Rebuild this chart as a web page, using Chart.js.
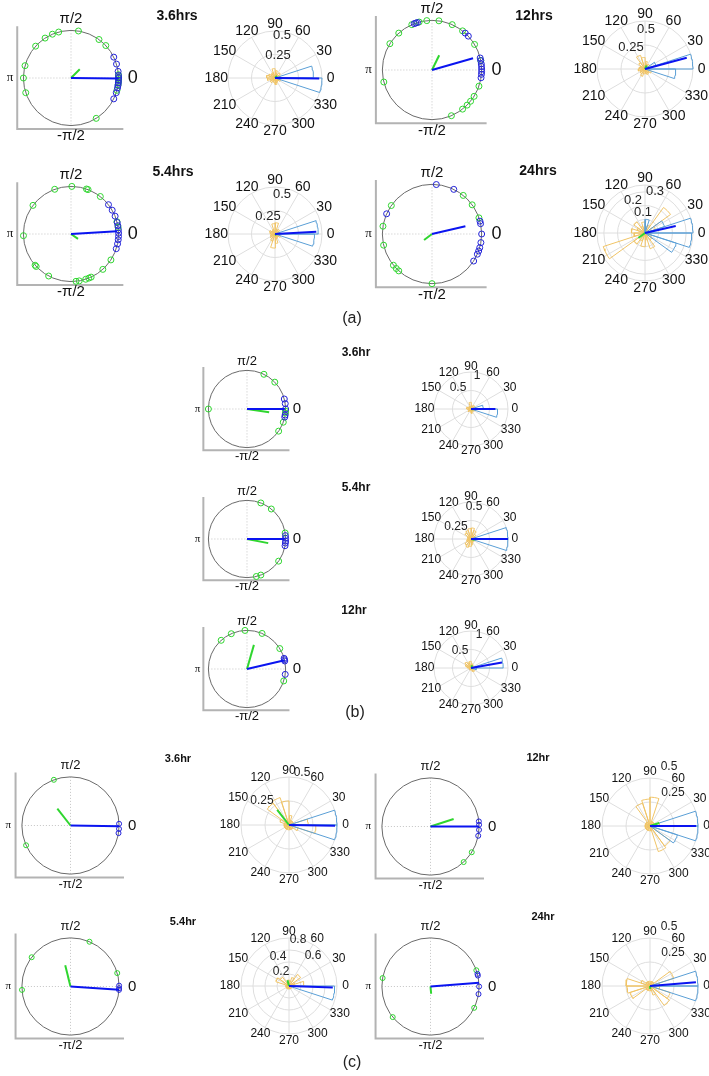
<!DOCTYPE html>
<html lang="en">
<head>
<meta charset="UTF-8">
<title>Phase distributions</title>
<script src="https://cdn.jsdelivr.net/npm/chart.js"></script>
<style>
    body {
        margin: 0;
        background: #fff;
        font-family: "Liberation Sans", Arial, sans-serif;
    }
    #figure {
        position: relative;
        width: 709px;
        height: 1076px;
        overflow: hidden;
    }
    #figure canvas {
        position: absolute;
    }
    .title {
        position: absolute;
        font-weight: bold;
        transform: translate(-50%, -50%);
        white-space: nowrap;
        color: #111;
    }
    .tag {
        position: absolute;
        font-size: 16px;
        transform: translate(-50%, -50%);
        color: #222;
    }
</style>
</head>
<body>
<div id="figure"></div>

<script>
// angles in degrees; vectors = [blue length, blue angle, green length, green angle]
// rose bins: 20 bins of 18 degrees starting at 0

// (a) 3.6hrs
const a36Green = [81, 54, 43, 105, 113, 123, 138, 165, 180, 198, -58, 4, 1, -2, -5, -8, -15];
const a36Blue = [26, 17, 8, 3, 0, -3, -6, -9, -12, -18, -26];
const a36Vectors = [0.99, -0.5, 0.26, 45];
const a36RoseBlue = [0.41, 0, 0, 0, 0, 0, 0, 0, 0, 0, 0, 0, 0, 0, 0, 0, 0, 0, 0, 0.5];
const a36RoseOrange = [0.06, 0.05, 0.07, 0.04, 0.08, 0.1, 0.06, 0.05, 0.07, 0.09, 0.08, 0.05, 0.06, 0.04, 0.05, 0.07, 0.05, 0.04, 0.06, 0.05];
const a36RoseVectors = [0.47, -0.5, 0.03, 45];
const a36Rings = [0.25, 0.5];

// (a) 12hrs
const a12Green = [82, 96, 114, 132, 148, 194, 66, 52, 31, 11, -19, -32, -39, -45, -52, -67, 105];
const a12Blue = [109, 111, 107, 48, 43, 14, 11, 7, 4, 1, -2, -5, -9];
const a12Vectors = [0.86, 16, 0.33, 64];
const a12RoseBlue = [0.5, 0.12, 0, 0, 0, 0, 0, 0, 0, 0, 0, 0, 0, 0, 0, 0, 0, 0, 0, 0.32];
const a12RoseOrange = [0.05, 0.04, 0.06, 0.05, 0.08, 0.12, 0.15, 0.08, 0.05, 0.06, 0.07, 0.05, 0.06, 0.08, 0.05, 0.04, 0.06, 0.05, 0.07, 0.04];
const a12RoseVectors = [0.45, 15, 0.04, 64];
const a12Rings = [0.25, 0.5];

// (a) 5.4hrs
const a54Green = [89, 69, 71, 52, 110, 143, 182, 221, 223, 242, -84, -80, -72, -68, -65, -48, -33, 15, 8];
const a54Blue = [38, 30, 22, 14, 10, 5, 1, -3, -7, -12, -18];
const a54Vectors = [0.97, 3.5, 0.18, -35];
const a54RoseBlue = [0.46, 0, 0, 0, 0, 0, 0, 0, 0, 0, 0, 0, 0, 0, 0, 0, 0, 0, 0, 0.42];
const a54RoseOrange = [0.05, 0.04, 0.06, 0.05, 0.12, 0.11, 0.05, 0.04, 0.06, 0.05, 0.04, 0.05, 0.06, 0.08, 0.15, 0.1, 0.05, 0.04, 0.06, 0.05];
const a54RoseVectors = [0.44, 3, 0.02, -35];
const a54Rings = [0.25, 0.5];

// (a) 24hrs
const a24Green = [51, 36, 19, 145, 171, 193, 219, 224, -90, 228];
const a24Blue = [85, 64, 156, 15, 12, 0, -10, -16, -20, -24, -33];
const a24Vectors = [0.69, 13, 0.2, 217];
const a24RoseBlue = [0.35, 0.15, 0, 0, 0.1, 0, 0, 0, 0, 0, 0, 0, 0, 0, 0, 0, 0, 0, 0.24, 0.34];
const a24RoseOrange = [0.05, 0.08, 0.23, 0.06, 0.05, 0.08, 0.05, 0.1, 0.06, 0.1, 0.08, 0.32, 0.1, 0.06, 0.1, 0.05, 0.12, 0.06, 0.05, 0.04];
const a24RoseVectors = [0.23, 13, 0.06, 217];
const a24Rings = [0.1, 0.2, 0.3];

// (b) 3.6hr
const b36Green = [44, 64, 180, -20, -35, -3, -6];
const b36Blue = [15, 8, 0, -9, -12];
const b36Vectors = [0.98, 0, 0.58, -8.6];
const b36RoseBlue = [0.33, 0, 0, 0, 0, 0, 0, 0, 0, 0, 0, 0, 0, 0, 0, 0, 0, 0, 0, 0.72];
const b36RoseOrange = [0.1, 0.08, 0.12, 0.06, 0.1, 0.18, 0.08, 0.06, 0.1, 0.12, 0.08, 0.06, 0.1, 0.05, 0.08, 0.12, 0.06, 0.08, 0.1, 0.12];
const b36RoseVectors = [0.66, 0, 0.06, -8];
const b36Rings = [0.5, 1];

// (b) 5.4hr
const b54Green = [69, 51, 9, -35, -69, -76];
const b54Blue = [5, 1, -3, -6, -10];
const b54Vectors = [0.98, 0, 0.56, -11];
const b54RoseBlue = [0.5, 0, 0, 0, 0, 0, 0, 0, 0, 0, 0, 0, 0, 0, 0, 0, 0, 0, 0, 0.5];
const b54RoseOrange = [0.05, 0.06, 0.08, 0.12, 0.15, 0.14, 0.12, 0.1, 0.05, 0.04, 0.05, 0.06, 0.1, 0.12, 0.1, 0.08, 0.05, 0.04, 0.05, 0.06];
const b54RoseVectors = [0.5, 0, 0.05, -11];
const b54Rings = [0.25, 0.5];

// (b) 12hr
const b12Green = [132, 114, 93, 67, 32, -18];
const b12Blue = [16, 14, 12, -8];
const b12Vectors = [1.0, 13, 0.65, 74];
const b12RoseBlue = [0.87, 0, 0, 0, 0, 0, 0, 0, 0, 0, 0, 0, 0, 0, 0, 0, 0, 0, 0, 0.15];
const b12RoseOrange = [0.06, 0.05, 0.08, 0.1, 0.12, 0.18, 0.15, 0.2, 0.16, 0.1, 0.05, 0.04, 0.05, 0.06, 0.05, 0.04, 0.1, 0.12, 0.05, 0.04];
const b12RoseVectors = [0.85, 10, 0.08, 74];
const b12Rings = [0.5, 1];

// (c) 3.6hr
const c36Green = [110, 204];
const c36Blue = [2, -4, -9];
const c36Vectors = [1.0, -1, 0.44, 128];
const c36RoseBlue = [0.5, 0, 0, 0, 0, 0, 0, 0, 0, 0, 0, 0, 0, 0, 0, 0, 0, 0, 0, 0.5];
const c36RoseOrange = [0.2, 0.05, 0.05, 0.05, 0.1, 0.25, 0.3, 0.28, 0.1, 0.05, 0.05, 0.05, 0.05, 0.05, 0.05, 0.05, 0.05, 0.05, 0.1, 0.28];
const c36RoseVectors = [0.48, -1, 0.2, 128];
const c36Rings = [0.25, 0.5];

// (c) 12hr
const c12Green = [-32, -47];
const c12Blue = [6, 2, -4, -11];
const c12Vectors = [1.0, 0, 0.5, 18];
const c12RoseBlue = [0.5, 0, 0, 0, 0, 0, 0, 0, 0, 0, 0, 0, 0, 0, 0, 0, 0, 0, 0.3, 0.5];
const c12RoseOrange = [0.1, 0.05, 0.05, 0.05, 0.3, 0.28, 0.25, 0.05, 0.05, 0.05, 0.05, 0.05, 0.05, 0.05, 0.05, 0.05, 0.28, 0.26, 0.05, 0.05];
const c12RoseVectors = [0.48, 0, 0.1, 18];
const c12Rings = [0.25, 0.5];

// (c) 5.4hr
const c54Green = [67, 143, 184, 16];
const c54Blue = [1, -2, -4];
const c54Vectors = [1.0, -3.7, 0.45, 104];
const c54RoseBlue = [0, 0, 0, 0, 0, 0, 0, 0, 0, 0, 0, 0, 0, 0, 0, 0, 0, 0, 0, 0.76];
const c54RoseOrange = [0.25, 0.1, 0.24, 0.15, 0.05, 0.1, 0.05, 0.18, 0.23, 0.05, 0.05, 0.05, 0.05, 0.05, 0.05, 0.05, 0.05, 0.05, 0.05, 0.05];
const c54RoseVectors = [0.73, -2, 0.1, 104];
const c54Rings = [0.2, 0.4, 0.6, 0.8];

// (c) 24hr
const c24Green = [19.5, 170, 219, -26];
const c24Blue = [15, 13, 0, -9];
const c24Vectors = [1.0, 4.4, 0.15, -85];
const c24RoseBlue = [0.5, 0, 0, 0, 0, 0, 0, 0, 0, 0, 0, 0, 0, 0, 0, 0, 0, 0, 0, 0.5];
const c24RoseOrange = [0.1, 0.26, 0.05, 0.05, 0.05, 0.05, 0.05, 0.05, 0.1, 0.25, 0.24, 0.22, 0.05, 0.05, 0.05, 0.05, 0.1, 0.25, 0.22, 0.1];
const c24RoseVectors = [0.48, 4.7, 0.03, -85];
const c24Rings = [0.25, 0.5];

const thetaTicks = [0, 30, 60, 90, 120, 150, 180, 210, 240, 270, 300, 330];
const binWidth = 18;

const GREEN = '#2fd62f';
const BLUE_PT = '#2323d8';
const BLUE_LINE = '#0a14f0';
const ROSE_BLUE = '#5a9fd6';
const ROSE_ORANGE = '#f0c466';

const sizes = {
    a: { title: 14, half: 15, zero: 18, pi: 13, deg: 14, ring: 13, marker: 3, zeroAt: 1.3 },
    b: { title: 12, half: 13, zero: 15, pi: 11, deg: 12, ring: 12, marker: 3, zeroAt: 1.29 },
    c: { title: 11, half: 13, zero: 15, pi: 11, deg: 12, ring: 12, marker: 2.5, zeroAt: 1.27 }
};

const panels = [
    { title: '3.6hrs', t: [177, 15], sz: 'a', green: a36Green, blue: a36Blue, vec: a36Vectors,
      rb: a36RoseBlue, ro: a36RoseOrange, rv: a36RoseVectors, rings: a36Rings, rmax: 0.5,
      circle: [71, 78, 51], rose: [275, 78, 47], ringPos: [[3, -23], [7, -43]] },
    { title: '12hrs', t: [534, 15], sz: 'a', green: a12Green, blue: a12Blue, vec: a12Vectors,
      rb: a12RoseBlue, ro: a12RoseOrange, rv: a12RoseVectors, rings: a12Rings, rmax: 0.5,
      circle: [432, 70, 53], rose: [645, 69, 48], ringPos: [[-14, -22], [1, -40]] },
    { title: '5.4hrs', t: [173, 171], sz: 'a', green: a54Green, blue: a54Blue, vec: a54Vectors,
      rb: a54RoseBlue, ro: a54RoseOrange, rv: a54RoseVectors, rings: a54Rings, rmax: 0.5,
      circle: [71, 234, 51], rose: [275, 234, 47], ringPos: [[-7, -18], [7, -40]] },
    { title: '24hrs', t: [538, 170], sz: 'a', green: a24Green, blue: a24Blue, vec: a24Vectors,
      rb: a24RoseBlue, ro: a24RoseOrange, rv: a24RoseVectors, rings: a24Rings, rmax: 0.35,
      circle: [432, 234, 53], rose: [645, 233, 48], ringPos: [[-2, -21], [-12, -33], [10, -42]] },
    { title: '3.6hr', t: [356, 352], sz: 'b', green: b36Green, blue: b36Blue, vec: b36Vectors,
      rb: b36RoseBlue, ro: b36RoseOrange, rv: b36RoseVectors, rings: b36Rings, rmax: 1,
      circle: [247, 409, 42], rose: [471, 409, 37], ringPos: [[-13, -21], [6, -33]] },
    { title: '5.4hr', t: [356, 487], sz: 'b', green: b54Green, blue: b54Blue, vec: b54Vectors,
      rb: b54RoseBlue, ro: b54RoseOrange, rv: b54RoseVectors, rings: b54Rings, rmax: 0.5,
      circle: [247, 539, 42], rose: [471, 539, 37], ringPos: [[-15, -12], [3, -32]] },
    { title: '12hr', t: [354, 610], sz: 'b', green: b12Green, blue: b12Blue, vec: b12Vectors,
      rb: b12RoseBlue, ro: b12RoseOrange, rv: b12RoseVectors, rings: b12Rings, rmax: 1,
      circle: [247, 669, 42], rose: [471, 668, 37], ringPos: [[-11, -17], [8, -33]] },
    { title: '3.6hr', t: [178, 758], sz: 'c', green: c36Green, blue: c36Blue, vec: c36Vectors,
      rb: c36RoseBlue, ro: c36RoseOrange, rv: c36RoseVectors, rings: c36Rings, rmax: 0.5,
      circle: [70, 825, 52], rose: [289, 825, 48], ringPos: [[-27, -24], [13, -52]] },
    { title: '12hr', t: [538, 757], sz: 'c', green: c12Green, blue: c12Blue, vec: c12Vectors,
      rb: c12RoseBlue, ro: c12RoseOrange, rv: c12RoseVectors, rings: c12Rings, rmax: 0.5,
      circle: [430, 826, 52], rose: [650, 826, 48], ringPos: [[23, -33], [19, -59]] },
    { title: '5.4hr', t: [183, 921], sz: 'c', green: c54Green, blue: c54Blue, vec: c54Vectors,
      rb: c54RoseBlue, ro: c54RoseOrange, rv: c54RoseVectors, rings: c54Rings, rmax: 0.8,
      circle: [70, 986, 52], rose: [289, 986, 48], ringPos: [[-8, -14], [-11, -29], [24, -30], [9, -46]] },
    { title: '24hr', t: [543, 916], sz: 'c', green: c24Green, blue: c24Blue, vec: c24Vectors,
      rb: c24RoseBlue, ro: c24RoseOrange, rv: c24RoseVectors, rings: c24Rings, rmax: 0.5,
      circle: [430, 986, 52], rose: [650, 986, 48], ringPos: [[23, -33], [19, -59]] }
];

const tags = [['(a)', 352, 318], ['(b)', 355, 712], ['(c)', 352, 1062]];

const rad = d => d * Math.PI / 180;
const onCircle = d => ({ x: Math.cos(rad(d)), y: Math.sin(rad(d)) });
const vector = (len, d) => [{ x: 0, y: 0 }, { x: len * Math.cos(rad(d)), y: len * Math.sin(rad(d)) }];

// outline of the rose: every non-empty bin goes centre -> arc -> centre
function roseOutline(vals) {
    const pts = [{ x: 0, y: 0 }];
    vals.forEach((v, i) => {
        if (!v) return;
        for (let k = 0; k <= 6; k++) {
            const a = rad(i * binWidth + binWidth * k / 6);
            pts.push({ x: v * Math.cos(a), y: v * Math.sin(a) });
        }
        pts.push({ x: 0, y: 0 });
    });
    return pts;
}

const circleFrame = {
    id: 'circleFrame',
    beforeDatasetsDraw(chart, args, o) {
        const { ctx, scales: { x, y } } = chart;
        const px = v => x.getPixelForValue(v), py = v => y.getPixelForValue(v);
        ctx.save();
        ctx.strokeStyle = '#b3b3b3';
        ctx.lineWidth = 2;
        ctx.beginPath();
        ctx.moveTo(px(-1.13), py(1.09));
        ctx.lineTo(px(-1.13), py(-1.07));
        ctx.lineTo(px(1.1), py(-1.07));
        ctx.stroke();
        ctx.strokeStyle = '#c4c4c4';
        ctx.lineWidth = 1;
        ctx.setLineDash([1, 2]);
        ctx.beginPath();
        ctx.moveTo(px(-1), py(0)); ctx.lineTo(px(1), py(0));
        ctx.moveTo(px(0), py(1)); ctx.lineTo(px(0), py(-1));
        ctx.stroke();
        ctx.setLineDash([]);
        ctx.strokeStyle = '#6a6a6a';
        ctx.beginPath();
        ctx.arc(px(0), py(0), px(1) - px(0), 0, Math.PI * 2);
        ctx.stroke();
        ctx.restore();
    },
    afterDraw(chart, args, o) {
        const { ctx, scales: { x, y } } = chart;
        const s = sizes[o.sz];
        const px = v => x.getPixelForValue(v), py = v => y.getPixelForValue(v);
        ctx.save();
        ctx.fillStyle = '#111';
        ctx.textAlign = 'center';
        ctx.textBaseline = 'middle';
        ctx.font = s.half + 'px "Liberation Sans", Arial';
        ctx.fillText('\u03c0/2', px(0), py(1.24));
        ctx.fillText('-\u03c0/2', px(0), py(-1.22));
        ctx.font = s.pi + 'px "Liberation Serif", serif';
        ctx.fillText('\u03c0', px(-1.28), py(0));
        ctx.font = s.zero + 'px "Liberation Sans", Arial';
        ctx.fillText('0', px(s.zeroAt), py(0));
        ctx.restore();
    }
};

const roseFrame = {
    id: 'roseFrame',
    beforeDatasetsDraw(chart, args, o) {
        const { ctx, scales: { x, y } } = chart;
        const cx = x.getPixelForValue(0), cy = y.getPixelForValue(0);
        const R = x.getPixelForValue(o.rmax) - cx;
        ctx.save();
        ctx.strokeStyle = '#dedede';
        ctx.lineWidth = 1;
        const rings = o.rings.includes(o.rmax) ? o.rings : o.rings.concat([o.rmax]);
        rings.forEach(v => {
            ctx.beginPath();
            ctx.arc(cx, cy, R * v / o.rmax, 0, Math.PI * 2);
            ctx.stroke();
        });
        ctx.beginPath();
        thetaTicks.forEach(t => {
            ctx.moveTo(cx, cy);
            ctx.lineTo(cx + R * Math.cos(rad(t)), cy - R * Math.sin(rad(t)));
        });
        ctx.stroke();
        ctx.restore();
    },
    afterDraw(chart, args, o) {
        const { ctx, scales: { x, y } } = chart;
        const s = sizes[o.sz];
        const cx = x.getPixelForValue(0), cy = y.getPixelForValue(0);
        const R = x.getPixelForValue(o.rmax) - cx;
        ctx.save();
        ctx.fillStyle = '#111';
        ctx.textAlign = 'center';
        ctx.textBaseline = 'middle';
        ctx.font = s.deg + 'px "Liberation Sans", Arial';
        thetaTicks.forEach(t => {
            const w = ctx.measureText(String(t)).width;
            const c = Math.cos(rad(t)), sn = Math.sin(rad(t));
            ctx.fillText(String(t), cx + c * (1.15 * R + 0.2 * w * Math.abs(c)), cy - sn * 1.14 * R);
        });
        ctx.font = s.ring + 'px "Liberation Sans", Arial';
        ctx.fillStyle = '#222';
        o.rings.forEach((v, i) => {
            const p = o.ringPos[i];
            ctx.fillText(String(v), cx + p[0], cy + p[1]);
        });
        ctx.restore();
    }
};

const fig = document.getElementById('figure');

function addCanvas(cx, cy, S) {
    const c = document.createElement('canvas');
    c.width = S; c.height = S;
    c.style.left = Math.round(cx - S / 2) + 'px';
    c.style.top = Math.round(cy - S / 2) + 'px';
    fig.appendChild(c);
    return c;
}

function baseOptions(L, plugins) {
    return {
        responsive: false,
        animation: false,
        devicePixelRatio: 1,
        events: [],
        layout: { padding: 0 },
        scales: {
            x: { type: 'linear', display: false, min: -L, max: L },
            y: { type: 'linear', display: false, min: -L, max: L }
        },
        plugins: Object.assign({ legend: { display: false }, tooltip: { enabled: false } }, plugins)
    };
}

function drawCircle(p) {
    const [cx, cy, r] = p.circle;
    const L = 1.45;
    const S = Math.round(2 * L * r);
    const m = sizes[p.sz].marker;
    new Chart(addCanvas(cx, cy, S), {
        type: 'scatter',
        data: {
            datasets: [
                { data: vector(p.vec[0], p.vec[1]), showLine: true, borderColor: BLUE_LINE, borderWidth: 2, pointRadius: 0, order: 0 },
                { data: vector(p.vec[2], p.vec[3]), showLine: true, borderColor: GREEN, borderWidth: 2, pointRadius: 0, order: 1 },
                { data: p.blue.map(onCircle), borderColor: BLUE_PT, backgroundColor: 'rgba(0,0,0,0)', pointRadius: m, borderWidth: 1, order: 2 },
                { data: p.green.map(onCircle), borderColor: GREEN, backgroundColor: 'rgba(0,0,0,0)', pointRadius: m, borderWidth: 1, order: 3 }
            ]
        },
        options: baseOptions(L, { circleFrame: { sz: p.sz } }),
        plugins: [circleFrame]
    });
}

function drawRose(p) {
    const [cx, cy, R] = p.rose;
    const H = Math.round(1.2 * R + 32);
    const L = p.rmax * H / R;
    new Chart(addCanvas(cx, cy, 2 * H), {
        type: 'scatter',
        data: {
            datasets: [
                { data: vector(p.rv[0], p.rv[1]), showLine: true, borderColor: BLUE_LINE, borderWidth: 2, pointRadius: 0, order: 0 },
                { data: vector(p.rv[2], p.rv[3]), showLine: true, borderColor: GREEN, borderWidth: 2, pointRadius: 0, order: 1 },
                { data: roseOutline(p.rb), showLine: true, borderColor: ROSE_BLUE, borderWidth: 1, pointRadius: 0, order: 2 },
                { data: roseOutline(p.ro), showLine: true, borderColor: ROSE_ORANGE, borderWidth: 1, pointRadius: 0, order: 3 }
            ]
        },
        options: baseOptions(L, { roseFrame: { sz: p.sz, rmax: p.rmax, rings: p.rings, ringPos: p.ringPos } }),
        plugins: [roseFrame]
    });
}

panels.forEach(p => {
    drawCircle(p);
    drawRose(p);
    const t = document.createElement('div');
    t.className = 'title';
    t.textContent = p.title;
    t.style.left = p.t[0] + 'px';
    t.style.top = p.t[1] + 'px';
    t.style.fontSize = sizes[p.sz].title + 'px';
    fig.appendChild(t);
});

tags.forEach(([txt, x, y]) => {
    const d = document.createElement('div');
    d.className = 'tag';
    d.textContent = txt;
    d.style.left = x + 'px';
    d.style.top = y + 'px';
    fig.appendChild(d);
});
</script>
</body>
</html>
